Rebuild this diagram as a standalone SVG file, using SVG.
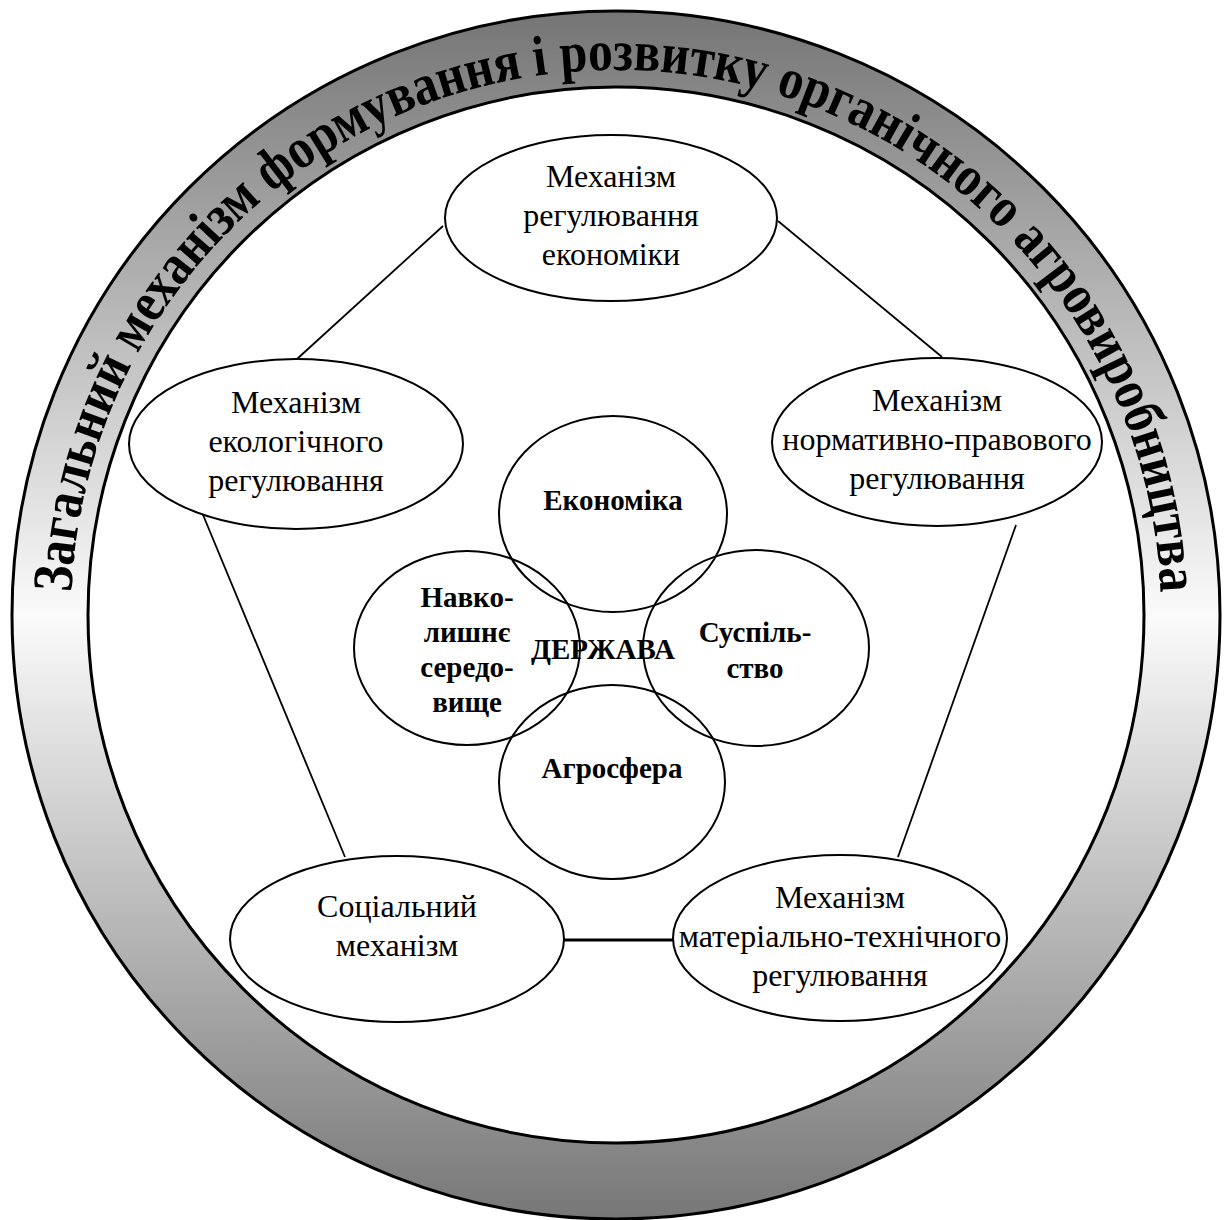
<svg xmlns="http://www.w3.org/2000/svg" width="1225" height="1220" viewBox="0 0 1225 1220">
<style>
.node{fill:#fff;stroke:#000;stroke-width:2}
.t{font-family:"Liberation Serif","Times New Roman",Tinos,"DejaVu Serif",serif;font-size:32px;fill:#000;text-anchor:middle}
.b{font-family:"Liberation Serif","Times New Roman",Tinos,"DejaVu Serif",serif;font-size:29px;font-weight:bold;fill:#000;text-anchor:middle}
.conn line{stroke:#000;stroke-width:1.8}
.ring-title{font-family:"Liberation Serif","Times New Roman",Tinos,"DejaVu Serif",serif;font-size:57px;font-weight:bold;fill:#000}
</style>
<defs>
<linearGradient id="ringGrad" gradientUnits="userSpaceOnUse" x1="0" y1="12" x2="0" y2="1218">
<stop offset="0" stop-color="#757575"/>
<stop offset="0.5" stop-color="#fbfbfb"/>
<stop offset="1" stop-color="#777777"/>
</linearGradient>
<path id="arcPath" d="M 71,615 A 545,545 0 0 1 1161,615"/>
</defs>
<rect width="1225" height="1220" fill="#fff"/>
<g id="ring">
<path d="M 12,615 A 604,604 0 1 0 1220,615 A 604,604 0 1 0 12,615 Z M 88,615 A 528,528 0 1 0 1144,615 A 528,528 0 1 0 88,615 Z" fill="url(#ringGrad)" fill-rule="evenodd" stroke="none"/>
<circle cx="616" cy="615" r="604" fill="none" stroke="#000" stroke-width="3"/>
<circle cx="616" cy="615" r="528" fill="#fff" stroke="#000" stroke-width="3"/>
<text class="ring-title"><textPath href="#arcPath" startOffset="50%" text-anchor="middle" textLength="1667" lengthAdjust="spacingAndGlyphs">Загальний механізм формування і розвитку органічного агровиробництва</textPath></text>
</g>
<g id="connectors" class="conn">
<line x1="443" y1="226" x2="297" y2="359"/>
<line x1="778" y1="221" x2="942" y2="357"/>
<line x1="201" y1="510" x2="345" y2="857"/>
<line x1="1016" y1="525" x2="898" y2="857"/>
<line x1="564" y1="940" x2="673" y2="940" style="stroke-width:3"/>
</g>
<g id="node-economy-mech">
<ellipse class="node" cx="611" cy="218" rx="166" ry="83"/>
<text class="t" x="611" y="187">Механізм</text>
<text class="t" x="611" y="226">регулювання</text>
<text class="t" x="611" y="265">економіки</text>
</g>
<g id="node-eco-mech">
<ellipse class="node" cx="296" cy="444" rx="167" ry="85"/>
<text class="t" x="296" y="413">Механізм</text>
<text class="t" x="296" y="452">екологічного</text>
<text class="t" x="296" y="491">регулювання</text>
</g>
<g id="node-legal-mech">
<ellipse class="node" cx="937" cy="442" rx="165" ry="84"/>
<text class="t" x="937" y="411">Механізм</text>
<text class="t" x="937" y="450">нормативно-правового</text>
<text class="t" x="937" y="489">регулювання</text>
</g>
<g id="node-social-mech">
<ellipse class="node" cx="397" cy="939" rx="167" ry="83"/>
<text class="t" x="397" y="917">Соціальний</text>
<text class="t" x="397" y="956">механізм</text>
</g>
<g id="node-tech-mech">
<ellipse class="node" cx="840" cy="938" rx="167" ry="83"/>
<text class="t" x="840" y="908">Механізм</text>
<text class="t" x="840" y="947">матеріально-технічного</text>
<text class="t" x="840" y="986">регулювання</text>
</g>
<g id="core">
<g id="node-economy">
<ellipse cx="613" cy="514" rx="114" ry="98" fill="none" stroke="#000" stroke-width="2"/>
<text class="b" x="613" y="510">Економіка</text>
</g>
<g id="node-environment">
<ellipse cx="467" cy="648" rx="113" ry="97" fill="none" stroke="#000" stroke-width="2"/>
<text class="b" x="467" y="607">Навко-</text>
<text class="b" x="467" y="642">лишнє</text>
<text class="b" x="467" y="677">середо-</text>
<text class="b" x="467" y="712">вище</text>
</g>
<g id="node-society">
<ellipse cx="756" cy="648" rx="113" ry="98" fill="none" stroke="#000" stroke-width="2"/>
<text class="b" x="755" y="642">Суспіль-</text>
<text class="b" x="755" y="678">ство</text>
</g>
<g id="node-agro">
<ellipse cx="612" cy="782" rx="113" ry="97" fill="none" stroke="#000" stroke-width="2"/>
<text class="b" x="612" y="778">Агросфера</text>
</g>
<g id="node-state">
<text class="b" x="603" y="659">ДЕРЖАВА</text>
</g>
</g>
</svg>
